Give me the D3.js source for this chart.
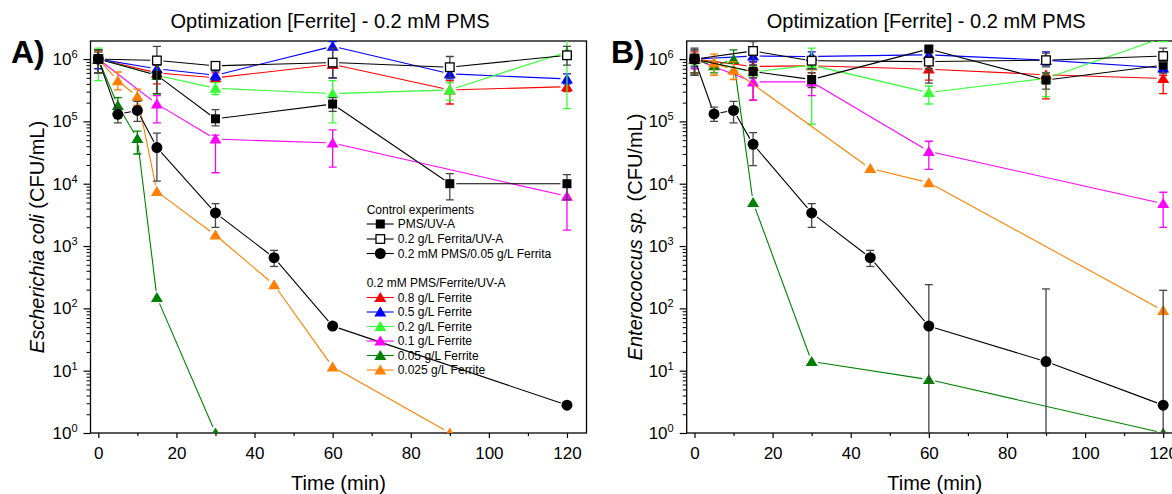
<!DOCTYPE html>
<html><head><meta charset="utf-8">
<script src="https://cdn.jsdelivr.net/npm/d3@7"></script>
<style>
body{margin:0;background:#fff}
svg{display:block}
text{font-family:"Liberation Sans",Arial,Helvetica,sans-serif;fill:#000}
</style>
</head><body>
<svg id="chart" width="1172" height="494"></svg>
<script>
// ---------------- DATA ----------------
const xTicks = [0, 20, 40, 60, 80, 100, 120];
const xMinorTicks = [10, 30, 50, 70, 90, 110];
const yDecades = [0, 1, 2, 3, 4, 5, 6];

const panelTitle = "Optimization [Ferrite] - 0.2 mM PMS";
const xTitle = "Time (min)";

// rows: [time (min), CFU/mL, error lower, error upper]
// Panel A – Escherichia coli
const ecoli_PMS     = [[0,1e6,6e5,1.4e6],[15,5.5e5,2.8e5,8e5],[30,1.1e5,8.5e4,1.55e5],[60,1.9e5,1.45e5,2.4e5],[90,1e4,5.5e3,1.45e4],[120,1e4,5.5e3,1.4e4]];
const ecoli_Fer     = [[0,1e6,6e5,1.4e6],[15,9.5e5,2.8e5,1.6e6],[30,7.8e5,6.5e5,9e5],[60,8.8e5,5e5,1.5e6],[90,7.4e5,5e5,1.1e6],[120,1.15e6,8e5,1.6e6]];
const ecoli_PMSFer  = [[0,1e6,6e5,1.4e6],[5,1.3e5,9.5e4,1.65e5],[10,1.5e5,1e5,2.1e5],[15,3.8e4,1.1e4,6.5e4],[30,3.4e3,2e3,4.8e3],[45,650,470,850],[60,52,null,null],[120,2.8,null,null]];
const ecoli_F08     = [[0,1e6,6e5,1.4e6],[15,6e5,4e5,8e5],[30,5e5,4.5e5,6e5],[60,8.2e5,5e5,1e6],[90,3.2e5,1.9e5,4.5e5],[120,3.6e5,3e5,4.2e5]];
const ecoli_F05     = [[0,1e6,7e5,1.3e6],[15,7e5,5.5e5,8.5e5],[30,5.5e5,4.6e5,6.5e5],[60,1.6e6,5e5,1.9e6],[90,5.8e5,4.8e5,7e5],[120,4.8e5,4e5,5.8e5]];
const ecoli_F02     = [[0,1e6,4.5e5,1.5e6],[15,5.5e5,2.7e5,9e5],[30,3.4e5,2.7e5,4.2e5],[60,2.8e5,9.5e4,4.5e5],[90,3.2e5,2.2e5,4.2e5],[120,1.3e6,1.6e5,2e6]];
const ecoli_F01     = [[0,1e6,6e5,1.3e6],[15,1.9e5,9.5e4,2.6e5],[30,5.2e4,1.5e4,6e4],[60,4.5e4,1.85e4,7.3e4],[120,6.3e3,1.8e3,1e4]];
const ecoli_F005    = [[0,1e6,6e5,1.3e6],[5,1.8e5,1.4e5,2.4e5],[10,5.3e4,3e4,7e4],[15,150,null,null],[30,1,null,null]];
const ecoli_F0025   = [[0,1e6,6e5,1.3e6],[5,4.5e5,3.2e5,6.2e5],[10,2.5e5,1.8e5,3.3e5],[15,7.5e3,null,null],[30,1.5e3,null,null],[45,240,null,null],[60,11.5,null,null],[90,1,null,null]];

// Panel B – Enterococcus sp.
const entero_PMS    = [[0,1e6,5.5e5,1.5e6],[15,6.3e5,5e5,8e5],[30,4.7e5,3.5e5,6e5],[60,1.45e6,4.1e5,1.5e6],[90,4.6e5,3.3e5,6e5],[120,8e5,6e5,1e6]];
const entero_Fer    = [[0,1e6,5.5e5,1.4e6],[15,1.35e6,8e5,1.9e6],[30,9.4e5,7e5,1.1e6],[60,9.1e5,7e5,1.05e6],[90,9.6e5,7.5e5,1.25e6],[120,1.12e6,9e5,1.5e6]];
const entero_PMSFer = [[0,1e6,6e5,1.4e6],[5,1.32e5,1e5,1.7e5],[10,1.5e5,9.5e4,2.1e5],[15,4.3e4,1.95e4,6.6e4],[30,3.4e3,2e3,4.8e3],[45,650,470,850],[60,52,1,240],[90,14,1,205],[120,2.8,1,195]];
const entero_F08    = [[0,1e6,6e5,1.3e6],[15,7.6e5,2.2e5,9e5],[30,7.8e5,6e5,8.5e5],[60,6.9e5,4.6e5,8e5],[90,5.6e5,2.3e5,6e5],[120,4.9e5,2.8e5,5.5e5]];
const entero_F05    = [[0,1e6,7.5e5,1.2e6],[15,1.12e6,9e5,1.3e6],[30,1.1e6,9e5,1.3e6],[60,1.17e6,9e5,1.4e6],[90,9.6e5,8e5,1.3e6],[120,7.2e5,6e5,8.5e5]];
const entero_F02    = [[0,1e6,8e5,1.2e6],[15,6.2e5,5e5,7.5e5],[30,8e5,9e4,1.5e6],[60,2.9e5,1.9e5,3.7e5],[90,4.9e5,2.5e5,6e5],[120,2.2e6,null,null]];
const entero_F01    = [[0,1e6,7e5,1.2e6],[15,4.3e5,2.2e5,5e5],[30,4.3e5,2.6e5,5e5],[60,3.3e4,1.7e4,4.8e4],[120,4.8e3,2e3,7.3e3]];
const entero_F005   = [[0,1e6,6e5,1.2e6],[5,7.8e5,6e5,9e5],[10,9.8e5,6.5e5,1.4e6],[15,5e3,null,null],[30,14,null,null],[60,7.2,null,null],[120,1,null,null]];
const entero_F0025  = [[0,1e6,6e5,1.2e6],[5,8.7e5,5.5e5,1.2e6],[10,6.6e5,4.7e5,9e5],[45,1.75e4,null,null],[60,1.04e4,null,null],[120,92,null,null]];

const legendControlTitle = "Control experiments";
const legendControlLabels = ["PMS/UV-A", "0.2 g/L Ferrita/UV-A", "0.2 mM PMS/0.05 g/L Ferrita"];
const legendFerriteTitle = "0.2 mM PMS/Ferrite/UV-A";
const legendFerriteLabels = ["0.8 g/L Ferrite", "0.5 g/L Ferrite", "0.2 g/L Ferrite", "0.1 g/L Ferrite", "0.05 g/L Ferrite", "0.025 g/L Ferrite"];

// ---------------- STYLES ----------------
const ferriteStyles = [
  {color:"#ff0000", err:"#ff0000", sym:"tri"},
  {color:"#0000ff", err:"#0000ff", sym:"tri"},
  {color:"#33ff33", err:"#33ff33", sym:"tri"},
  {color:"#ff00ff", err:"#ff00ff", sym:"tri"},
  {color:"#008000", err:"#008000", sym:"tri"},
  {color:"#ff8000", err:"#ff8000", sym:"tri"}
];
const controlStyles = [
  {color:"#000000", err:"#444444", sym:"sq"},
  {color:"#000000", err:"#444444", sym:"osq"},
  {color:"#000000", err:"#444444", sym:"circ"}
];

const svg = d3.select("#chart");
const Y_TOP = 41, Y_BOT = 433;

function drawSymbol(g, type, cx, cy, color) {
  if (type === "tri") {
    g.append("path").attr("d", `M${cx},${cy-5.5}L${cx+6},${cy+4.5}L${cx-6},${cy+4.5}Z`).attr("fill", color);
  } else if (type === "sq") {
    g.append("rect").attr("x", cx-4.5).attr("y", cy-4.5).attr("width", 9).attr("height", 9).attr("fill", "#000");
  } else if (type === "osq") {
    g.append("rect").attr("x", cx-4.3).attr("y", cy-4.3).attr("width", 8.6).attr("height", 8.6).attr("fill", "#fff").attr("stroke", "#000").attr("stroke-width", 1.3);
  } else if (type === "circ") {
    g.append("circle").attr("cx", cx).attr("cy", cy).attr("r", 5.5).attr("fill", "#000");
  }
}

function drawPanel(cfg) {
  const x = d3.scaleLinear().domain([-2, 125]).range([cfg.x0, cfg.x0 + 496]);
  const y = d3.scaleLog().domain([1, Math.pow(10, 6.29)]).range([Y_BOT, Y_TOP]);
  const g = svg.append("g");
  const clipId = "clip" + cfg.id;
  svg.append("clipPath").attr("id", clipId).append("rect")
    .attr("x", cfg.x0).attr("y", Y_TOP).attr("width", 496).attr("height", Y_BOT - Y_TOP);

  // axes ticks
  const xAx = g.append("g").attr("transform", `translate(0,${Y_BOT})`)
    .call(d3.axisBottom(x).tickValues(xTicks).tickSize(5).tickPadding(3).tickFormat(d3.format("d")));
  xAx.select(".domain").remove();
  xAx.selectAll("line").attr("stroke", "#000").attr("stroke-width", 1.2);
  xAx.selectAll("text").attr("font-size", 17).attr("font-family", '"Liberation Sans",Arial,sans-serif').attr("dy", null).attr("y", 26);
  const xMin = g.append("g").attr("transform", `translate(0,${Y_BOT})`)
    .call(d3.axisBottom(x).tickValues(xMinorTicks).tickSize(3).tickFormat(""));
  xMin.select(".domain").remove();
  xMin.selectAll("line").attr("stroke", "#000").attr("stroke-width", 1.2);

  const yAx = g.append("g").attr("transform", `translate(${cfg.x0},0)`)
    .call(d3.axisLeft(y).tickValues(yDecades.map(d => Math.pow(10, d))).tickSize(7).tickFormat(""));
  yAx.select(".domain").remove();
  yAx.selectAll("line").attr("stroke", "#000").attr("stroke-width", 1.2);
  const minors = [];
  for (let d = 0; d <= 6; d++) for (let m = 2; m <= 9; m++) { const v = m * Math.pow(10, d); if (v < y.domain()[1]) minors.push(v); }
  const yMin = g.append("g").attr("transform", `translate(${cfg.x0},0)`)
    .call(d3.axisLeft(y).tickValues(minors).tickSize(4).tickFormat(""));
  yMin.select(".domain").remove();
  yMin.selectAll("line").attr("stroke", "#000").attr("stroke-width", 1);

  // y tick labels with superscript
  g.selectAll(".ylab").data(yDecades).join("text")
    .attr("class", "ylab").attr("x", cfg.x0 - 13).attr("y", d => y(Math.pow(10, d)) + 6)
    .attr("text-anchor", "end").attr("font-size", 17)
    .each(function(d) {
      const t = d3.select(this);
      t.append("tspan").text("10");
      t.append("tspan").attr("dy", -7).attr("font-size", 11).text(d);
    });

  // frame
  g.append("rect").attr("x", cfg.x0).attr("y", Y_TOP).attr("width", 496).attr("height", Y_BOT - Y_TOP)
    .attr("fill", "none").attr("stroke", "#000").attr("stroke-width", 1.3);

  // titles
  g.append("text").attr("x", cfg.x0 + 248 - 8.5).attr("y", 28).attr("text-anchor", "middle").attr("font-size", 20).text(panelTitle);
  g.append("text").attr("x", cfg.x0 + 248).attr("y", 490).attr("text-anchor", "middle").attr("font-size", 20).text(xTitle);
  g.append("text").attr("x", cfg.letterX).attr("y", 63).attr("font-size", 32).attr("font-weight", "bold").text(cfg.letter);
  const yt = g.append("text").attr("transform", `translate(${cfg.yTitleX},237) rotate(-90)`)
    .attr("text-anchor", "middle").attr("font-size", 20);
  yt.append("tspan").attr("font-style", "italic").text(cfg.organism);
  yt.append("tspan").text(" (CFU/mL)");

  // data
  const plot = g.append("g").attr("clip-path", `url(#${clipId})`);
  const gap = 6.5;
  cfg.series.forEach(s => {
    const sg = plot.append("g");
    const pts = s.data.map(r => ({px: x(r[0]), py: y(r[1]), lo: r[2], hi: r[3], t: r[0]}));
    for (let i = 0; i < pts.length - 1; i++) {
      const a = pts[i], b = pts[i + 1];
      const dx = b.px - a.px, dy = b.py - a.py, L = Math.hypot(dx, dy);
      if (L <= 2 * gap) continue;
      const ux = dx / L, uy = dy / L;
      sg.append("line").attr("x1", a.px + ux * gap).attr("y1", a.py + uy * gap)
        .attr("x2", b.px - ux * gap).attr("y2", b.py - uy * gap)
        .attr("stroke", s.style.color).attr("stroke-width", 1.1);
    }
    pts.forEach(p => {
      if (p.lo == null) return;
      const yl = y(p.lo), yh = y(p.hi);
      sg.append("line").attr("x1", p.px).attr("x2", p.px).attr("y1", yl).attr("y2", yh).attr("stroke", s.style.err).attr("stroke-width", 1.3);
      [yl, yh].forEach(yy => sg.append("line").attr("x1", p.px - 4).attr("x2", p.px + 4).attr("y1", yy).attr("y2", yy).attr("stroke", s.style.err).attr("stroke-width", 1.3));
    });
    pts.forEach(p => drawSymbol(sg, s.style.sym, p.px, p.py, s.style.color));
  });
}

const ferriteA = [ecoli_F08, ecoli_F05, ecoli_F02, ecoli_F01, ecoli_F005, ecoli_F0025];
const controlA = [ecoli_PMS, ecoli_Fer, ecoli_PMSFer];
const ferriteB = [entero_F08, entero_F05, entero_F02, entero_F01, entero_F005, entero_F0025];
const controlB = [entero_PMS, entero_Fer, entero_PMSFer];

function buildSeries(ferr, ctrl) {
  return ferr.map((d, i) => ({data: d, style: ferriteStyles[i]}))
    .concat(ctrl.map((d, i) => ({data: d, style: controlStyles[i]})));
}

drawPanel({id: "A", x0: 90.5, letter: "A)", letterX: 11, yTitleX: 44, organism: "Escherichia coli", series: buildSeries(ferriteA, controlA)});
drawPanel({id: "B", x0: 686.7, letter: "B)", letterX: 611, yTitleX: 642, organism: "Enterococcus sp.", series: buildSeries(ferriteB, controlB)});

// legend (panel A)
const lg = svg.append("g").attr("font-size", 12);
const LX = 366.7;
lg.append("text").attr("x", LX).attr("y", 214).attr("font-size", 12).text(legendControlTitle);
const ctrlRows = [224, 239, 253.5];
legendControlLabels.forEach((lab, i) => {
  const cy = ctrlRows[i];
  lg.append("line").attr("x1", LX).attr("x2", LX + 27).attr("y1", cy).attr("y2", cy).attr("stroke", "#000").attr("stroke-width", 1.1);
  drawSymbol(lg, controlStyles[i].sym, LX + 13.6, cy, "#000");
  lg.append("text").attr("x", LX + 31).attr("y", cy + 4.3).attr("font-size", 12).text(lab);
});
lg.append("text").attr("x", LX).attr("y", 287).attr("font-size", 12).text(legendFerriteTitle);
const ferRows = [297.5, 312, 326.5, 341, 355.5, 370];
legendFerriteLabels.forEach((lab, i) => {
  const cy = ferRows[i];
  lg.append("line").attr("x1", LX).attr("x2", LX + 27).attr("y1", cy).attr("y2", cy).attr("stroke", ferriteStyles[i].color).attr("stroke-width", 1.1);
  drawSymbol(lg, "tri", LX + 13.6, cy, ferriteStyles[i].color);
  lg.append("text").attr("x", LX + 31).attr("y", cy + 4.3).attr("font-size", 12).text(lab);
});
</script>
</body></html>
